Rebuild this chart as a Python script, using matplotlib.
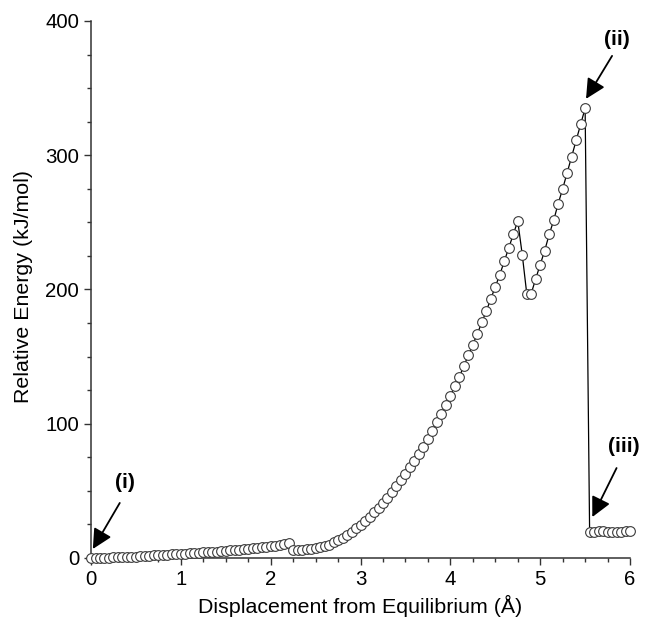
import matplotlib
matplotlib.use("Agg")
import matplotlib.pyplot as plt
from matplotlib.ticker import MultipleLocator

plt.rcParams['font.family'] = ['Liberation Sans', 'DejaVu Sans']

# Displacement (Å), 0.05 step
displacement = [round(i * 0.05, 2) for i in range(121)]

energy = [
    # 0.00 - 0.45
    0.0, 0.0, 0.1, 0.2, 0.3, 0.4, 0.5, 0.6, 0.8, 0.9,
    # 0.50 - 0.95
    1.1, 1.3, 1.5, 1.7, 1.9, 2.1, 2.3, 2.5, 2.7, 2.9,
    # 1.00 - 1.45
    3.1, 3.3, 3.5, 3.7, 3.9, 4.1, 4.3, 4.6, 4.8, 5.1,
    # 1.50 - 1.95
    5.4, 5.6, 5.9, 6.2, 6.5, 6.8, 7.2, 7.6, 8.0, 8.4,
    # 2.00 - 2.45
    8.8, 9.3, 9.8, 10.4, 11.4, 6.3, 6.0, 6.0, 6.5, 6.6,
    # 2.50 - 2.95
    7.5, 8.0, 8.7, 10.0, 11.6, 13.4, 15.2, 17.3, 19.7, 22.0,
    # 3.00 - 3.45
    24.5, 27.5, 30.7, 34.0, 37.3, 41.0, 45.0, 49.3, 53.4, 58.0,
    # 3.50 - 3.95
    62.7, 67.5, 72.5, 77.6, 83.0, 88.7, 94.6, 101.0, 107.5, 114.0,
    # 4.00 - 4.45
    121.0, 128.0, 135.0, 143.0, 151.0, 159.0, 167.0, 175.5, 184.0, 193.0,
    # 4.50 - 4.95
    202.0, 211.0, 221.0, 231.0, 241.0, 251.0, 226.0, 197.0, 197.0, 208.0,
    # 5.00 - 5.45
    218.5, 229.0, 241.0, 251.5, 264.0, 275.0, 287.0, 299.0, 311.0, 323.0,
    # 5.50 - 5.95
    335.0, 19.5, 19.5, 19.8, 19.8, 19.5, 19.3, 19.3, 19.5, 19.8,
    # 6.00
    20.2,
]

x_ticks = [0, 1, 2, 3, 4, 5, 6]
y_ticks = [0, 100, 200, 300, 400]

fig = plt.figure(figsize=(6.46, 6.30), dpi=100)
ax = fig.add_axes([0.1409, 0.1143, 0.8344, 0.8524])

ax.plot(displacement, energy, color='black', lw=0.9, zorder=2, clip_on=False)
ax.plot(displacement, energy, linestyle='none', marker='o', markersize=7.0,
        markerfacecolor='white', markeredgecolor='#3a3a3a', markeredgewidth=0.8,
        zorder=3, clip_on=False)

ax.set_xlim(0, 6)
ax.set_ylim(0, 400)
ax.set_xticks(x_ticks)
ax.set_yticks(y_ticks)
ax.xaxis.set_minor_locator(MultipleLocator(0.25))
ax.yaxis.set_minor_locator(MultipleLocator(25))

for s in ['top', 'right']:
    ax.spines[s].set_visible(False)
for s in ['left', 'bottom']:
    ax.spines[s].set_color('#333333')
    ax.spines[s].set_linewidth(1.1)

ax.tick_params(which='major', direction='out', length=5, width=1.0, color='#333333',
               labelsize=14.7, pad=3.5)
ax.tick_params(which='minor', direction='out', length=3, width=1.0, color='#333333')

ax.set_xlabel('Displacement from Equilibrium (Å)', fontsize=15.4, va='center')
ax.set_ylabel('Relative Energy (kJ/mol)', fontsize=15.4, va='center')
ax.xaxis.set_label_coords(0.5, -0.089)
ax.yaxis.set_label_coords(-0.126, 0.505)

arrow = dict(arrowstyle='-|>', mutation_scale=30, lw=1.3, color='black',
             shrinkA=0, shrinkB=0)
ax.annotate('', xy=(0.02, 6.7), xytext=(0.32, 41), arrowprops=arrow, annotation_clip=False)
ax.text(0.38, 56, '(i)', fontsize=15, fontweight='bold', ha='center', va='center')
ax.annotate('', xy=(5.51, 342), xytext=(5.80, 374), arrowprops=arrow, annotation_clip=False)
ax.text(5.85, 386, '(ii)', fontsize=15, fontweight='bold', ha='center', va='center')
ax.annotate('', xy=(5.58, 30.5), xytext=(5.85, 67), arrowprops=arrow, annotation_clip=False)
ax.text(5.93, 83, '(iii)', fontsize=15, fontweight='bold', ha='center', va='center',
        clip_on=False)

fig.savefig('out.png', dpi=100)
